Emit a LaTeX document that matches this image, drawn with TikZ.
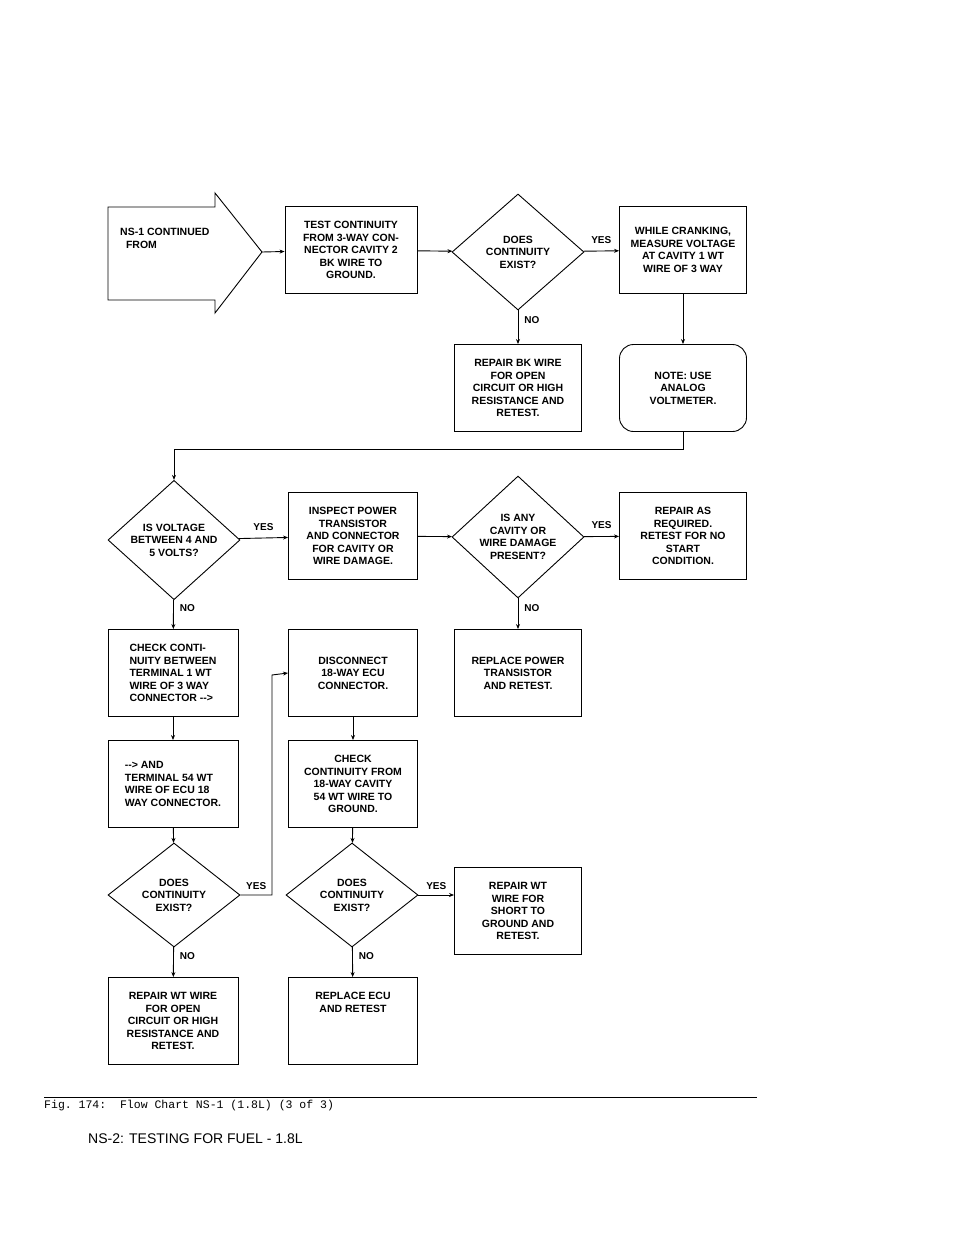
\documentclass[tikz,border=0pt]{standalone}
\usepackage{fontspec}
\setsansfont{Liberation Sans}
\setmonofont{Liberation Mono}
\usetikzlibrary{arrows.meta,shapes.geometric}
\begin{document}
\begin{tikzpicture}[x=1pt,y=-1pt,
  every node/.style={font=\sffamily\bfseries\fontsize{10.5}{12.5}\selectfont,align=center,inner sep=0pt},
  box/.style={draw,line width=0.9pt,minimum width=129pt,minimum height=87pt},
  test/.style={draw,line width=0.9pt,diamond,minimum width=132pt,minimum height=116pt},
  flow/.style={line width=0.9pt,-{Stealth[length=5pt,width=4pt]}},
  lbl/.style={font=\sffamily\bfseries\fontsize{10}{12}\selectfont}]
  \useasboundingbox (0,0) rectangle (960,1242);
  % first row
  \draw [line width=0.9pt] (108,207) -- (215,207) -- (215,193) -- (262,252) -- (215,313) -- (215,300) -- (108,300) -- cycle;
  \node [anchor=north west,align=left] (from) at (120,228) {NS-1 CONTINUED\\\ \ FROM};
  \coordinate (tip) at (262,252);
  \node [box,minimum width=132pt] (cont) at (351,250) {TEST CONTINUITY\\FROM 3-WAY CON-\\NECTOR CAVITY 2\\BK WIRE TO\\GROUND.};
  \node [test] (exist1) at (518,252) {DOES\\CONTINUITY\\EXIST?};
  \node [box,minimum width=127pt] (crank) at (683,250) {WHILE CRANKING,\\MEASURE VOLTAGE\\AT CAVITY 1 WT\\WIRE OF 3 WAY};
  \node [box,minimum width=127pt] (bkwire) at (518,388) {REPAIR BK WIRE\\FOR OPEN\\CIRCUIT OR HIGH\\RESISTANCE AND\\RETEST.};
  \node [box,minimum width=127pt,rounded corners=14pt] (note) at (683,388) {NOTE: USE\\ANALOG\\VOLTMETER.};
  \draw [flow] (tip) -- (cont);
  \draw [flow] (cont) -- (exist1);
  \draw [flow] (exist1) -- node [lbl,above=7pt] {YES} (crank);
  \draw [flow] (exist1) -- node [lbl,right=6pt,pos=0.3] {NO} (bkwire);
  \draw [flow] (crank) -- (note);
  % second row
  \node [test] (volts) at (174,540) {IS VOLTAGE\\BETWEEN 4 AND\\5 VOLTS?};
  \draw [flow] (note.south) -- (683,449) -- (174,449) -- (volts.north);
  \node [box] (inspect) at (353,536) {INSPECT POWER\\TRANSISTOR\\AND CONNECTOR\\FOR CAVITY OR\\WIRE DAMAGE.};
  \node [test] (damage) at (518,537) {IS ANY\\CAVITY OR\\WIRE DAMAGE\\PRESENT?};
  \node [box,minimum width=127pt] (repair) at (683,536) {REPAIR AS\\REQUIRED.\\RETEST FOR NO\\START\\CONDITION.};
  \node [box,minimum width=127pt] (replace) at (518,673) {REPLACE POWER\\TRANSISTOR\\AND RETEST.};
  \draw [flow] (volts) -- node [lbl,above=7pt] {YES} (inspect);
  \draw [flow] (inspect) -- (damage);
  \draw [flow] (damage) -- node [lbl,above=7pt] {YES} (repair);
  \draw [flow] (damage) -- node [lbl,right=6pt,pos=0.3] {NO} (replace);
  % left column
  \node [box,minimum width=130pt,align=left] (conti) at (173,673) {CHECK CONTI-\\NUITY BETWEEN\\TERMINAL 1 WT\\WIRE OF 3 WAY\\CONNECTOR {-}{-}>};
  \node [box,minimum width=130pt,align=left] (term) at (173,784) {{-}{-}> AND\\TERMINAL 54 WT\\WIRE OF ECU 18\\WAY CONNECTOR.};
  \node [test,minimum height=104pt] (exist2) at (174,895) {DOES\\CONTINUITY\\EXIST?};
  \node [box,minimum width=130pt] (wtwire) at (173,1021) {REPAIR WT WIRE\\FOR OPEN\\CIRCUIT OR HIGH\\RESISTANCE AND\\RETEST.};
  \draw [flow] (volts) -- node [lbl,right=6pt,pos=0.3] {NO} (conti);
  \draw [flow] (conti) -- (term);
  \draw [flow] (term) -- (exist2);
  \draw [flow] (exist2) -- node [lbl,right=6pt,pos=0.3] {NO} (wtwire);
  % middle column
  \node [box] (disc) at (353,673) {DISCONNECT\\18-WAY ECU\\CONNECTOR.};
  \node [box] (ground) at (353,784) {CHECK\\CONTINUITY FROM\\18-WAY CAVITY\\54 WT WIRE TO\\GROUND.};
  \node [test,minimum height=104pt] (exist3) at (352,895) {DOES\\CONTINUITY\\EXIST?};
  \node [box,minimum width=127pt] (short) at (518,911) {REPAIR WT\\WIRE FOR\\SHORT TO\\GROUND AND\\RETEST.};
  \node [box] (ecu) at (353,1021) {REPLACE ECU\\AND RETEST\\\\\\};
  \draw [flow] (exist2.east) -- node [lbl,above=5pt,pos=0.5] {YES} (272,895) -- (272,675) -- (disc.west);
  \draw [flow] (disc) -- (ground);
  \draw [flow] (ground) -- (exist3);
  \draw [flow] (exist3) -- node [lbl,above=5pt] {YES} (exist3 -| short.west);
  \draw [flow] (exist3) -- node [lbl,right=6pt,pos=0.3] {NO} (ecu);
  % caption
  \draw [line width=0.6pt] (44,1097) -- (757,1097);
  \node [anchor=west,font=\ttfamily\fontsize{11.5}{13}\selectfont] (fig) at (44,1106) {Fig. 174:\ \ Flow Chart NS-1 (1.8L) (3 of 3)};
  \node [anchor=west,font=\sffamily\fontsize{14}{16}\selectfont] (ns2) at (88,1139) {NS-2: TESTING FOR FUEL - 1.8L};
\end{tikzpicture}
\end{document}
